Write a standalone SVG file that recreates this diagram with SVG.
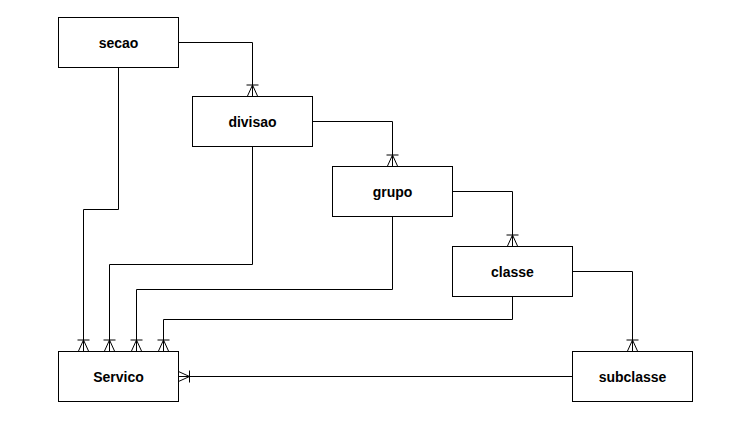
<svg xmlns="http://www.w3.org/2000/svg" width="750" height="428" viewBox="0 0 750 428">
<style>
.box{fill:#fff;stroke:#000;stroke-width:1}
.lbl{font-family:"Liberation Sans",Arial,sans-serif;font-size:14px;font-weight:bold;text-anchor:middle;dominant-baseline:central;fill:#000}
.c{fill:none;stroke:#000;stroke-width:1;marker-end:url(#many)}
</style>
<defs>
<marker id="many" markerUnits="userSpaceOnUse" markerWidth="14" markerHeight="14" refX="12" refY="7" orient="auto" overflow="visible">
<path d="M1,1 L1,13 M1,7 L12,2 M1,7 L12,12 M1,7 L12,7" fill="none" stroke="#000" stroke-width="1"/>
</marker>
</defs>
<rect width="750" height="428" fill="#fff"/>
<g id="connectors">
<path class="c" d="M178.5,42.5 H252.5 V96"/>
<path class="c" d="M312.5,121.5 H392.5 V166"/>
<path class="c" d="M452.5,191.5 H512.5 V246"/>
<path class="c" d="M572.5,271.5 H632.5 V351"/>
<path class="c" d="M118.5,67.5 V209.5 H83.5 V351"/>
<path class="c" d="M252.5,146.5 V264.5 H109.5 V351"/>
<path class="c" d="M392.5,216.5 V289.5 H136.5 V351"/>
<path class="c" d="M512.5,296.5 V319.5 H163.5 V351"/>
<path class="c" d="M572.5,376.5 H178.5"/>
</g>
<g id="secao"><rect class="box" x="58.5" y="17.5" width="120" height="50"/><text class="lbl" x="118.5" y="42.5">secao</text></g>
<g id="divisao"><rect class="box" x="192.5" y="96.5" width="120" height="50"/><text class="lbl" x="252.5" y="121.5">divisao</text></g>
<g id="grupo"><rect class="box" x="332.5" y="166.5" width="120" height="50"/><text class="lbl" x="392.5" y="191.5">grupo</text></g>
<g id="classe"><rect class="box" x="452.5" y="246.5" width="120" height="50"/><text class="lbl" x="512.5" y="271.5">classe</text></g>
<g id="servico"><rect class="box" x="58.5" y="351.5" width="120" height="50"/><text class="lbl" x="118.5" y="376.5">Servico</text></g>
<g id="subclasse"><rect class="box" x="572.5" y="351.5" width="120" height="50"/><text class="lbl" x="632.5" y="376.5">subclasse</text></g>
</svg>
